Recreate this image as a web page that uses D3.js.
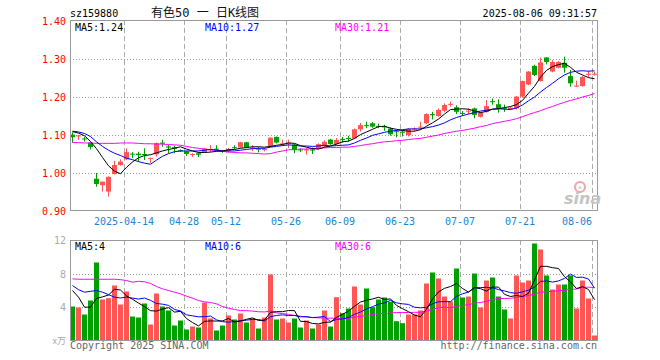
<!DOCTYPE html>
<html><head><meta charset="utf-8">
<script src="https://cdn.jsdelivr.net/npm/d3@7"></script>
<style>body{margin:0;background:#fff}svg{display:block}</style>
</head><body><svg id="c" width="660" height="360"></svg>
<script>
const dates = ["03-31","04-01","04-02","04-03","04-07","04-08","04-09","04-10","04-11","04-14",
"04-15","04-16","04-17","04-18","04-21","04-22","04-23","04-24","04-25","04-28",
"04-29","04-30","05-06","05-07","05-08","05-09","05-12","05-13","05-14","05-15",
"05-16","05-19","05-20","05-21","05-22","05-23","05-26","05-27","05-28","05-29",
"05-30","06-03","06-04","06-05","06-06","06-09","06-10","06-11","06-12","06-13",
"06-16","06-17","06-18","06-19","06-20","06-23","06-24","06-25","06-26","06-27",
"06-30","07-01","07-02","07-03","07-04","07-07","07-08","07-09","07-10","07-11",
"07-14","07-15","07-16","07-17","07-18","07-21","07-22","07-23","07-24","07-25",
"07-28","07-29","07-30","07-31","08-01","08-04","08-05","08-06"];
const open = [1.101,1.097,1.091,1.080,0.985,0.968,0.951,0.997,1.021,1.036,
1.051,1.051,1.050,1.038,1.049,1.080,1.070,1.068,1.060,1.057,
1.048,1.052,1.055,1.060,1.064,1.058,1.058,1.068,1.067,1.081,
1.064,1.064,1.060,1.070,1.095,1.076,1.077,1.075,1.062,1.060,
1.062,1.064,1.070,1.088,1.076,1.090,1.092,1.091,1.115,1.126,
1.131,1.124,1.123,1.117,1.110,1.109,1.100,1.115,1.120,1.131,
1.155,1.150,1.164,1.180,1.173,1.158,1.162,1.170,1.148,1.161,
1.189,1.181,1.172,1.168,1.170,1.201,1.233,1.282,1.242,1.304,
1.267,1.277,1.290,1.255,1.228,1.229,1.260,1.260];
const high = [1.107,1.100,1.095,1.080,1.000,0.978,0.991,1.032,1.036,1.065,
1.055,1.056,1.065,1.040,1.080,1.087,1.074,1.072,1.062,1.058,
1.052,1.054,1.066,1.073,1.073,1.060,1.066,1.073,1.082,1.082,
1.073,1.068,1.066,1.094,1.096,1.088,1.088,1.077,1.065,1.065,
1.067,1.078,1.086,1.090,1.092,1.095,1.098,1.117,1.132,1.135,
1.134,1.130,1.127,1.120,1.113,1.112,1.118,1.120,1.135,1.157,
1.161,1.170,1.183,1.188,1.178,1.163,1.170,1.172,1.160,1.192,
1.196,1.194,1.180,1.174,1.203,1.243,1.268,1.285,1.304,1.305,
1.297,1.295,1.306,1.271,1.243,1.255,1.269,1.267];
const low = [1.080,1.087,1.083,1.062,0.964,0.951,0.938,0.996,1.019,1.034,
1.039,1.030,1.034,1.026,1.043,1.069,1.052,1.052,1.055,1.045,
1.042,1.042,1.053,1.055,1.057,1.053,1.054,1.062,1.066,1.065,
1.058,1.054,1.057,1.068,1.078,1.071,1.066,1.052,1.055,1.048,
1.050,1.062,1.068,1.074,1.074,1.080,1.083,1.089,1.109,1.118,
1.119,1.118,1.111,1.098,1.094,1.096,1.096,1.109,1.114,1.129,
1.141,1.148,1.160,1.175,1.155,1.150,1.155,1.144,1.146,1.159,
1.180,1.159,1.161,1.166,1.167,1.198,1.231,1.255,1.240,1.286,
1.265,1.275,1.264,1.227,1.226,1.227,1.253,1.256];
const close = [1.094,1.099,1.089,1.068,0.971,0.977,0.990,1.021,1.030,1.055,
1.049,1.047,1.048,1.040,1.079,1.077,1.067,1.064,1.057,1.050,
1.050,1.048,1.064,1.063,1.061,1.056,1.063,1.066,1.081,1.067,
1.067,1.062,1.063,1.093,1.080,1.078,1.080,1.060,1.060,1.062,
1.059,1.076,1.082,1.076,1.087,1.087,1.090,1.115,1.126,1.124,
1.122,1.122,1.120,1.102,1.108,1.106,1.116,1.117,1.122,1.155,
1.152,1.166,1.179,1.182,1.161,1.156,1.164,1.153,1.159,1.176,
1.187,1.170,1.170,1.172,1.201,1.242,1.267,1.258,1.291,1.292,
1.292,1.292,1.277,1.236,1.230,1.253,1.261,1.261];
const ma5 = [1.109,1.105,1.098,1.083,1.064,1.041,1.019,1.005,0.998,1.015,
1.029,1.040,1.046,1.048,1.053,1.058,1.062,1.065,1.069,1.063,
1.058,1.054,1.054,1.055,1.057,1.058,1.061,1.062,1.065,1.067,
1.069,1.069,1.068,1.070,1.073,1.075,1.079,1.078,1.072,1.068,
1.064,1.063,1.068,1.071,1.076,1.082,1.084,1.091,1.101,1.108,
1.115,1.122,1.123,1.118,1.115,1.112,1.110,1.110,1.114,1.123,
1.132,1.142,1.155,1.167,1.168,1.169,1.168,1.163,1.159,1.162,
1.168,1.169,1.172,1.175,1.180,1.191,1.210,1.228,1.252,1.270,
1.280,1.285,1.289,1.278,1.265,1.258,1.251,1.248];
const ma10 = [1.110,1.108,1.104,1.096,1.082,1.070,1.060,1.052,1.046,1.039,
1.035,1.030,1.026,1.023,1.034,1.044,1.051,1.056,1.058,1.058,
1.058,1.058,1.060,1.062,1.060,1.058,1.058,1.058,1.060,1.062,
1.064,1.065,1.065,1.068,1.070,1.072,1.074,1.073,1.071,1.071,
1.070,1.071,1.073,1.071,1.072,1.073,1.074,1.079,1.086,1.092,
1.099,1.103,1.107,1.110,1.112,1.114,1.116,1.116,1.116,1.119,
1.122,1.126,1.132,1.140,1.146,1.151,1.155,1.159,1.163,1.165,
1.168,1.169,1.168,1.167,1.171,1.179,1.190,1.200,1.213,1.225,
1.236,1.248,1.258,1.265,1.268,1.269,1.268,1.269];
const ma30 = [1.080,1.080,1.079,1.079,1.078,1.078,1.078,1.078,1.079,1.079,
1.079,1.078,1.077,1.077,1.076,1.076,1.075,1.074,1.073,1.070,
1.067,1.065,1.063,1.061,1.059,1.057,1.055,1.054,1.053,1.053,
1.052,1.051,1.050,1.051,1.055,1.058,1.061,1.062,1.063,1.063,
1.064,1.065,1.066,1.067,1.067,1.068,1.068,1.070,1.072,1.075,
1.077,1.080,1.082,1.083,1.085,1.086,1.088,1.090,1.091,1.094,
1.097,1.100,1.104,1.107,1.110,1.112,1.115,1.118,1.122,1.125,
1.130,1.133,1.136,1.139,1.143,1.148,1.154,1.159,1.164,1.170,
1.175,1.181,1.186,1.191,1.195,1.200,1.204,1.209];
const volume = [4.08,3.96,3.12,4.8,9.36,4.92,5.08,6.6,4.32,5.88,
2.88,2.76,4.44,1.92,5.64,4.08,3.6,1.8,2.4,1.32,
1.68,1.56,4.56,2.64,1.2,1.8,3.0,2.52,3.24,2.16,
2.64,1.44,2.76,7.92,2.52,2.64,2.16,2.64,1.56,2.4,
1.44,1.92,3.6,1.68,5.2,3.28,3.84,6.48,4.32,6.24,
4.0,4.92,5.16,4.64,2.32,2.08,3.12,3.12,3.6,6.84,
8.16,7.44,5.28,4.68,8.64,5.16,5.28,8.04,3.96,7.2,
7.56,5.28,3.72,2.64,7.8,6.96,7.2,11.64,10.92,7.8,
6.12,6.72,6.72,7.8,3.84,7.2,5.04,0.6];
const vma5 = [6.0,5.2,4.0,4.0,5.06,5.23,5.46,6.15,6.06,5.36,
4.95,4.49,4.06,3.58,3.53,3.77,3.94,3.41,3.50,2.64,
2.16,1.75,2.30,2.35,2.33,2.35,2.64,2.23,2.35,2.54,
2.71,2.40,2.45,3.38,3.46,3.46,3.60,3.58,2.30,2.28,
2.04,1.99,2.18,2.21,2.77,3.14,3.52,4.10,4.62,4.83,
4.98,5.19,4.93,4.99,4.21,3.82,3.46,3.06,2.85,3.75,
4.97,5.83,6.26,6.48,6.84,6.24,5.81,6.36,6.22,5.93,
6.41,6.41,5.54,5.28,5.40,5.28,5.66,7.25,8.90,8.90,
8.74,8.64,7.66,7.03,6.24,6.46,6.12,4.90];
const vma10 = [6.6,6.1,5.8,5.9,6.0,5.8,5.5,5.2,5.1,5.21,
5.09,4.97,5.10,4.82,4.44,4.36,4.21,3.73,3.54,3.08,
2.96,2.84,2.86,2.93,2.48,2.26,2.20,2.27,2.35,2.44,
2.53,2.52,2.34,2.87,3.00,3.08,3.00,3.01,2.84,2.87,
2.75,2.80,2.88,2.26,2.52,2.59,2.76,3.14,3.42,3.80,
4.06,4.36,4.51,4.81,4.52,4.40,4.33,3.99,3.92,3.98,
4.40,4.65,4.66,4.66,5.30,5.60,5.82,6.31,6.35,6.38,
6.32,6.11,5.95,5.75,5.66,5.84,6.04,6.40,7.09,7.15,
7.01,7.15,7.45,7.97,7.57,7.60,7.38,6.28];
const vma30 = [7.4,7.35,7.35,7.35,7.35,7.35,7.35,7.35,7.3,7.2,
7.0,7.1,7.05,6.85,6.48,6.2,6.0,5.8,5.6,5.32,
5.08,4.8,4.64,4.56,4.4,4.08,3.88,3.72,3.6,3.58,
3.53,3.45,3.43,3.54,3.31,3.23,3.14,3.00,2.91,2.80,
2.75,2.72,2.69,2.68,2.67,2.64,2.65,2.81,2.87,3.03,
3.11,3.22,3.24,3.31,3.35,3.36,3.36,3.38,3.39,3.55,
3.73,3.93,4.02,3.91,4.11,4.20,4.30,4.48,4.56,4.72,
4.93,5.04,5.04,5.07,5.16,5.28,5.39,5.57,5.79,5.84,
5.91,5.97,6.02,6.13,6.18,6.35,6.41,6.33];
const priceTicks = [0.90,1.00,1.10,1.20,1.30,1.40];
const volTicks = [4,8,12];
const tickDates = ["04-14","04-28","05-12","05-26","06-09","06-23","07-07","07-21","08-06"];
const tickLabels = ["2025-04-14","04-28","05-12","05-26","06-09","06-23","07-07","07-21","08-06"];
const priceLegend = ["MA5:1.24","MA10:1.27","MA30:1.21"];
const volLegend = ["MA5:4","MA10:6","MA30:6"];
const code = "sz159880", titleText = "有色50 一 日K线图", stamp = "2025-08-06 09:31:57";

const svg = d3.select("#c");
const MONO = "'DejaVu Sans Mono', monospace";
const UP = "#ff5555", DN = "#00a000";
const L = 70, R = 597;
const x = d3.scaleBand().domain(d3.range(dates.length)).range([70, 598]).padding(0);
const cx = i => x(i) + 2.5;
const yP = d3.scaleLinear().domain([0.9, 1.4]).range([211, 21]);
const yV = d3.scaleLinear().domain([0, 12]).range([340.5, 240.5]);
const lineColors = ["#000000", "#0000ff", "#ff00ff"];

function grids(top, bot, yScale, ticks) {
  const g = svg.append("g");
  ticks.forEach(t => {
    const yy = Math.round(yScale(t)) + 0.5;
    if (yy > top + 2 && yy < bot - 2)
      g.append("line").attr("x1", L).attr("x2", R).attr("y1", yy).attr("y2", yy)
        .attr("stroke", "#999").attr("stroke-dasharray", "1,2");
  });
  tickDates.forEach(d => {
    const xx = x(dates.indexOf(d)) + 0.5;
    g.append("line").attr("x1", xx).attr("x2", xx).attr("y1", top).attr("y2", bot)
      .attr("stroke", "#aaa").attr("stroke-dasharray", "5,3");
  });
}
grids(20, 211, yP, priceTicks);
grids(240, 340, yV, volTicks);

// candles
const cg = svg.append("g");
dates.forEach((d, i) => {
  const col = close[i] >= open[i] ? UP : DN;
  cg.append("line").attr("x1", cx(i)).attr("x2", cx(i))
    .attr("y1", yP(high[i])).attr("y2", yP(low[i])).attr("stroke", col);
  const yt = yP(Math.max(open[i], close[i])), yb = yP(Math.min(open[i], close[i]));
  cg.append("rect").attr("x", x(i)).attr("width", 5)
    .attr("y", yt).attr("height", Math.max(1, yb - yt)).attr("fill", col);
});

// volume bars
svg.append("g").selectAll("rect").data(volume).join("rect")
  .attr("x", (v, i) => x(i)).attr("width", 5)
  .attr("y", v => yV(v)).attr("height", v => yV(0) - yV(v))
  .attr("fill", (v, i) => close[i] >= open[i] ? UP : DN);

// MA lines
function maLine(arr, yScale, color) {
  svg.append("path").datum(arr)
    .attr("d", d3.line().x((v, i) => cx(i)).y(v => yScale(v)))
    .attr("fill", "none").attr("stroke", color).attr("stroke-width", 1);
}
[ma30, ma10, ma5].forEach((a, k) => maLine(a, yP, lineColors[2 - k]));
[vma30, vma10, vma5].forEach((a, k) => maLine(a, yV, lineColors[2 - k]));

// frames
svg.append("rect").attr("x", 70.5).attr("y", 20.5).attr("width", 527).attr("height", 190)
  .attr("fill", "none").attr("stroke", "#999");
svg.append("rect").attr("x", 70.5).attr("y", 240.5).attr("width", 527).attr("height", 100)
  .attr("fill", "none").attr("stroke", "#999");

// axis labels
svg.append("g").selectAll("text").data(priceTicks).join("text")
  .attr("x", 66).attr("y", v => yP(v) + 3.8).attr("text-anchor", "end")
  .attr("font-family", MONO).attr("font-size", 10).attr("fill", "#ff0000")
  .text(v => v.toFixed(2));
svg.append("g").selectAll("text").data(volTicks).join("text")
  .attr("x", 66).attr("y", v => yV(v) + 3.8).attr("text-anchor", "end")
  .attr("font-family", MONO).attr("font-size", 10).attr("fill", "#aaa")
  .text(v => v);
svg.append("text").attr("x", 66).attr("y", 344).attr("text-anchor", "end")
  .attr("font-family", "'Noto Sans CJK SC', sans-serif").attr("font-size", 9).attr("fill", "#aaa").text("x万");

tickDates.forEach((d, k) => {
  const xx = x(dates.indexOf(d));
  const w = tickLabels[k].length * 6.02;
  let c = xx;
  if (c + w / 2 > 592) c = 592 - w / 2;
  svg.append("text").attr("x", c).attr("y", 225).attr("text-anchor", "middle")
    .attr("font-family", MONO).attr("font-size", 10).attr("fill", "#1a84d6").text(tickLabels[k]);
});

// legends
const legX = [75, 205, 335];
priceLegend.forEach((t, k) => svg.append("text").attr("x", legX[k]).attr("y", 30.5)
  .attr("font-family", MONO).attr("font-size", 10).attr("fill", lineColors[k]).text(t));
volLegend.forEach((t, k) => svg.append("text").attr("x", legX[k]).attr("y", 250)
  .attr("font-family", MONO).attr("font-size", 10).attr("fill", lineColors[k]).text(t));

// header
svg.append("text").attr("x", 70).attr("y", 16.5).attr("font-family", MONO).attr("font-size", 10).text(code);
svg.append("text").attr("x", 151).attr("y", 17).attr("font-family", "'DejaVu Sans Mono','Noto Sans CJK SC'")
  .attr("font-size", 12).attr("fill", "#111").text(titleText);
svg.append("text").attr("x", 597).attr("y", 16.5).attr("text-anchor", "end")
  .attr("font-family", MONO).attr("font-size", 10).text(stamp);

// footer
svg.append("text").attr("x", 70).attr("y", 349).attr("font-family", MONO).attr("font-size", 10)
  .attr("fill", "#666").text("Copyright 2025 SINA.COM");
svg.append("text").attr("x", 597).attr("y", 349).attr("text-anchor", "end").attr("font-family", MONO)
  .attr("font-size", 10).attr("fill", "#666").text("http://finance.sina.com.cn");

// watermark
svg.append("circle").attr("cx", 580).attr("cy", 187).attr("r", 5).attr("fill", "none")
  .attr("stroke", "#f0a8a8").attr("stroke-width", 2.2);
svg.append("circle").attr("cx", 580).attr("cy", 187.5).attr("r", 1.6).attr("fill", "#d8d8d8");
svg.append("text").attr("x", 564).attr("y", 204).attr("font-family", "'DejaVu Sans', sans-serif")
  .attr("font-style", "italic").attr("font-weight", "bold").attr("font-size", 16)
  .attr("fill", "#c4c4c4").text("sina");
</script></body></html>
